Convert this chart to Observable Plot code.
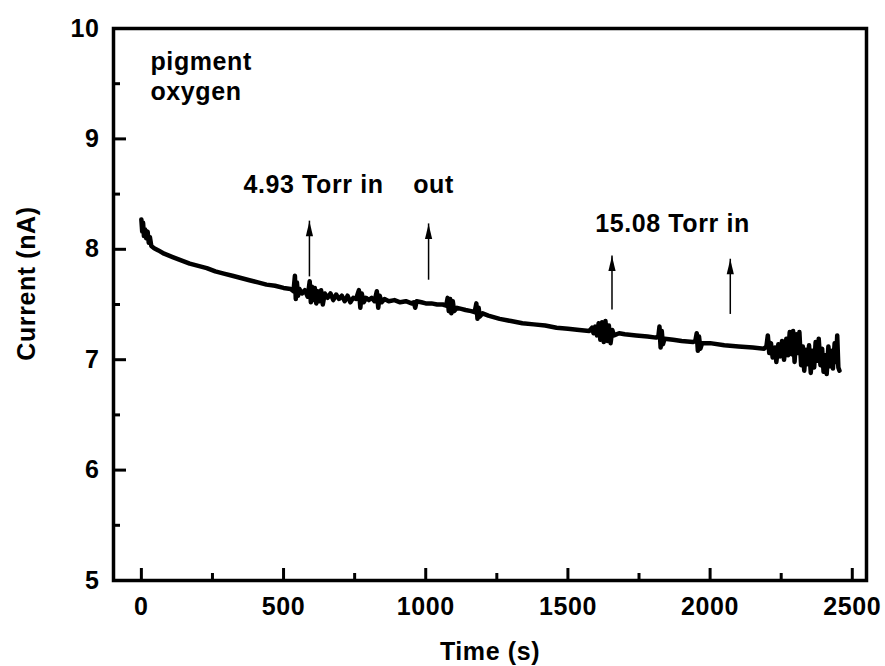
<!DOCTYPE html>
<html>
<head>
<meta charset="utf-8">
<script src="https://cdn.jsdelivr.net/npm/d3@7"></script>
<script src="https://cdn.jsdelivr.net/npm/@observablehq/plot@0.6"></script>
<style>
  html, body { margin: 0; padding: 0; background: #fff; }
  #chart { width: 885px; height: 666px; }
  #chart svg text { letter-spacing: 0.6px; }
</style>
</head>
<body>
<div id="chart"></div>
<script>
// ---- Data ----
const timeS = [
  0, 3, 6, 9, 13, 17, 22, 26, 30, 35, 45, 60, 80, 110, 140, 170, 200, 230, 260, 290,
  320, 350, 380, 410, 440, 470, 500, 525, 535, 540, 543, 547, 551, 556, 565, 575, 585, 592, 596, 600,
  605, 610, 615, 620, 626, 632, 638, 645, 655, 665, 675, 685, 695, 705, 715, 725, 735, 745, 755, 765,
  770, 775, 782, 790, 800, 810, 820, 828, 833, 838, 845, 855, 870, 890, 910, 930, 950, 958, 963, 968,
  985, 1000, 1020, 1040, 1060, 1072, 1077, 1081, 1086, 1090, 1095, 1100, 1110, 1125, 1140, 1160, 1172, 1178, 1182, 1186,
  1190, 1200, 1220, 1260, 1300, 1340, 1380, 1420, 1460, 1500, 1540, 1575, 1585, 1590, 1596, 1602, 1608, 1614, 1620, 1626,
  1632, 1638, 1644, 1650, 1656, 1662, 1680, 1700, 1740, 1780, 1810, 1818, 1822, 1826, 1830, 1834, 1840, 1870, 1900, 1940,
  1948, 1953, 1957, 1961, 1966, 1972, 2000, 2050, 2100, 2150, 2190, 2198, 2203, 2208, 2214, 2220, 2228, 2233, 2240, 2247,
  2253, 2260, 2268, 2274, 2280, 2286, 2292, 2297, 2303, 2309, 2314, 2320, 2326, 2331, 2337, 2343, 2348, 2354, 2360, 2366,
  2371, 2377, 2382, 2388, 2394, 2399, 2405, 2410, 2416, 2421, 2427, 2432, 2438, 2443, 2447, 2451, 2455
];
const currentNA = [
  8.27, 8.16, 8.24, 8.12, 8.18, 8.10, 8.16, 8.06, 8.11, 8.03, 8.01, 7.99, 7.96, 7.93, 7.90, 7.87, 7.85, 7.83, 7.80, 7.78,
  7.76, 7.74, 7.72, 7.70, 7.68, 7.67, 7.65, 7.64, 7.62, 7.76, 7.55, 7.70, 7.58, 7.64, 7.60, 7.63, 7.57, 7.71, 7.52, 7.66,
  7.54, 7.65, 7.51, 7.62, 7.53, 7.63, 7.50, 7.60, 7.56, 7.60, 7.54, 7.59, 7.55, 7.58, 7.53, 7.58, 7.52, 7.56, 7.55, 7.63,
  7.47, 7.60, 7.52, 7.56, 7.54, 7.56, 7.53, 7.62, 7.47, 7.58, 7.52, 7.55, 7.53, 7.54, 7.52, 7.53, 7.51, 7.52, 7.47, 7.53,
  7.52, 7.51, 7.51, 7.50, 7.50, 7.49, 7.56, 7.44, 7.55, 7.42, 7.53, 7.44, 7.47, 7.46, 7.45, 7.44, 7.43, 7.51, 7.37, 7.47,
  7.39, 7.42, 7.40, 7.37, 7.35, 7.33, 7.32, 7.31, 7.29, 7.28, 7.27, 7.26, 7.29, 7.24, 7.30, 7.22, 7.33, 7.18, 7.34, 7.16,
  7.35, 7.17, 7.31, 7.15, 7.27, 7.22, 7.24, 7.23, 7.22, 7.21, 7.20, 7.21, 7.30, 7.11, 7.26, 7.14, 7.19, 7.18, 7.17, 7.16,
  7.17, 7.24, 7.08, 7.21, 7.10, 7.15, 7.15, 7.13, 7.12, 7.11, 7.10, 7.12, 7.22, 7.06, 7.15, 7.02, 7.11, 6.98, 7.14, 7.03,
  7.17, 7.00, 7.19, 7.04, 7.25, 7.05, 7.26, 6.98, 7.23, 7.06, 7.25, 6.95, 7.12, 6.90, 7.09, 6.96, 7.13, 6.88, 7.08, 6.93,
  7.16, 6.99, 7.19, 6.95, 7.10, 6.89, 7.04, 6.87, 7.12, 6.94, 7.08, 6.92, 7.15, 6.98, 7.22, 6.93, 6.90
];

const xMajorTicks = [0, 500, 1000, 1500, 2000, 2500];
const xMinorTicks = [250, 750, 1250, 1750, 2250];
const yMajorTicks = [5, 6, 7, 8, 9, 10];
const yMinorTicks = [5.5, 6.5, 7.5, 8.5, 9.5];

const xLabel = "Time (s)";
const yLabel = "Current (nA)";

// annotation texts (anchored at left/baseline)
const noteTexts = ["pigment", "oxygen", "4.93 Torr in", "out", "15.08 Torr in"];
const noteT = [32, 32, 359, 956, 1596];
const noteV = [9.62, 9.35, 8.51, 8.51, 8.16];

// arrows (time, base value, tip value)
const arrowT = [591, 1010, 1655, 2071];
const arrowBase = [7.75, 7.72, 7.45, 7.41];
const arrowTip = [8.255, 8.23, 7.94, 7.91];

// ---- Build ----
const series = timeS.map((t, i) => ({t, v: currentNA[i]}));
const notes = noteTexts.map((s, i) => ({s, t: noteT[i], v: noteV[i]}));
const arrows = arrowT.map((t, i) => ({t, b: arrowBase[i], tip: arrowTip[i]}));

const xDomain = [-98, 2550];
const yDomain = [5, 10];
const mL = 113, mR = 19, mT = 28, mB = 86, W = 885, H = 666;
const pxPerX = (W - mL - mR) / (xDomain[1] - xDomain[0]);
const pxPerY = (H - mT - mB) / (yDomain[1] - yDomain[0]);

const headSymbol = {
  draw(ctx) {
    ctx.moveTo(0, 0);
    ctx.lineTo(-3.6, 15);
    ctx.lineTo(3.6, 15);
    ctx.closePath();
  }
};

const font = "'Liberation Sans', Arial, Helvetica, sans-serif";

const chart = Plot.plot({
  width: W, height: H,
  marginLeft: mL, marginRight: mR, marginTop: mT, marginBottom: mB,
  x: {domain: xDomain},
  y: {domain: yDomain},
  style: {fontFamily: font, fontWeight: "bold", fontSize: "25px", background: "white", color: "black", overflow: "visible"},
  marks: [
    Plot.axisX({ticks: xMajorTicks, tickSize: 0, tickPadding: 17, label: null, tickFormat: d => String(d), fontSize: 25, fontWeight: "bold", fill: "black"}),
    Plot.axisY({ticks: yMajorTicks, tickSize: 0, tickPadding: 14, label: null, tickFormat: d => String(d), fontSize: 25, fontWeight: "bold", fill: "black"}),
    // inward ticks
    Plot.ruleX(xMajorTicks, {x: d => d, y1: yDomain[0], y2: yDomain[0] + 12 / pxPerY, strokeWidth: 3}),
    Plot.ruleX(xMinorTicks, {x: d => d, y1: yDomain[0], y2: yDomain[0] + 7 / pxPerY, strokeWidth: 3}),
    Plot.ruleY(yMajorTicks, {y: d => d, x1: xDomain[0], x2: xDomain[0] + 13 / pxPerX, strokeWidth: 3}),
    Plot.ruleY(yMinorTicks, {y: d => d, x1: xDomain[0], x2: xDomain[0] + 7 / pxPerX, strokeWidth: 3}),
    // data
    Plot.line(series, {x: "t", y: "v", stroke: "black", strokeWidth: 4.5, strokeLinejoin: "round", strokeLinecap: "round"}),
    // arrows
    Plot.ruleX(arrows, {x: "t", y1: "b", y2: "tip", stroke: "black", strokeWidth: 1.5}),
    Plot.dot(arrows, {x: "t", y: "tip", symbol: headSymbol, fill: "black", stroke: null}),
    // annotations
    Plot.text(notes, {x: "t", y: "v", text: "s", textAnchor: "start", lineAnchor: "bottom", fontSize: 25, fontWeight: "bold", fill: "black"}),
    // axis titles
    Plot.text([xLabel], {frameAnchor: "bottom", textAnchor: "middle", lineAnchor: "middle", dy: 71, fontSize: 25, fontWeight: "bold", fill: "black"}),
    Plot.text([yLabel], {frameAnchor: "left", textAnchor: "middle", lineAnchor: "middle", dx: -87, dy: -21, rotate: -90, fontSize: 25, fontWeight: "bold", fill: "black"}),
    Plot.frame({stroke: "black", strokeWidth: 3.5})
  ]
});

document.getElementById("chart").appendChild(chart);
</script>
</body>
</html>
